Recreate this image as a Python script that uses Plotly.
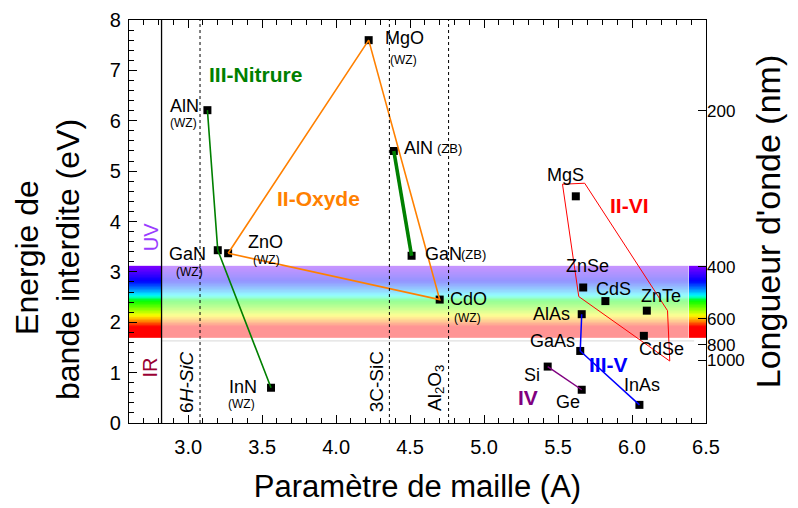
import numpy as np
import plotly.graph_objects as go

# ---------------- data ----------------
materials = ['AlN (WZ)', 'GaN (WZ)', 'InN (WZ)', 'AlN (ZB)', 'GaN (ZB)', 'MgO', 'ZnO', 'CdO',
             'MgS', 'ZnSe', 'CdS', 'ZnTe', 'CdSe', 'AlAs', 'GaAs', 'InAs', 'Si', 'Ge']
lattice = [3.13, 3.20, 3.56, 4.39, 4.51, 4.22, 3.27, 4.70,
           5.62, 5.67, 5.82, 6.10, 6.08, 5.66, 5.65, 6.05, 5.43, 5.66]
gap = [6.21, 3.43, 0.70, 5.40, 3.32, 7.60, 3.37, 2.45,
       4.50, 2.69, 2.42, 2.23, 1.73, 2.16, 1.43, 0.36, 1.12, 0.66]

nitride_wz = ['AlN (WZ)', 'GaN (WZ)', 'InN (WZ)']
nitride_zb = ['AlN (ZB)', 'GaN (ZB)']
oxide_loop = ['ZnO', 'MgO', 'CdO', 'ZnO']
iii_v = ['AlAs', 'GaAs', 'InAs']
group_iv = ['Si', 'Ge']

# II-VI envelope polygon
iivi_env_a = [5.53, 5.68, 6.24, 6.255, 5.64, 5.53]
iivi_env_E = [4.74, 4.76, 2.23, 1.23, 2.51, 4.74]

# substrates (lattice parameter, A)
substrates = ['6<i>H-SiC</i>', '3C-SiC', 'Al<sub>2</sub>O<sub>3</sub>']
substrate_a = [3.08, 4.36, 4.76]

# visible spectrum band (eV)
visible_E = [1.70, 3.12]
wl_ticks = [200, 400, 600, 800, 1000]
hc = 1240.0

idx = {m: i for i, m in enumerate(materials)}
def pts(names):
    return [lattice[idx[n]] for n in names], [gap[idx[n]] for n in names]

# ---------------- colours ----------------
def wl_rgb(wl):
    stops = [(380, (128, 0, 255)), (397, (128, 0, 255)), (440, (0, 0, 255)), (490, (0, 255, 255)),
             (510, (0, 255, 0)), (580, (255, 255, 0)), (645, (255, 0, 0)), (780, (255, 0, 0))]
    for (w0, c0), (w1, c1) in zip(stops[:-1], stops[1:]):
        if w0 <= wl <= w1:
            t = (wl - w0) / (w1 - w0) if w1 > w0 else 0
            return tuple(int(round(c0[k] + t * (c1[k] - c0[k]))) for k in range(3))
    return stops[-1][1]

FONT = 'Liberation Sans, Arial, sans-serif'
fig = go.Figure()

# spectrum band as heatmaps (bricks)
N = 120
Eedges = np.linspace(visible_E[0], visible_E[1], N + 1)
Ecent = 0.5 * (Eedges[:-1] + Eedges[1:])
ts = np.linspace(0, 1, 41)
cscale = []
for t in ts:
    E = visible_E[0] + t * (visible_E[1] - visible_E[0])
    r, g, b = wl_rgb(hc / E)
    cscale.append([float(t), f'rgb({r},{g},{b})'])
z = [[float(e)] for e in Ecent]
x_left, x_vline, x_right0, x_max = 2.6, 2.82, 6.385, 6.5
for xs, op in [([x_left, x_vline], 1.0), ([x_vline, x_right0], 0.42), ([x_right0, x_max], 1.0)]:
    fig.add_trace(go.Heatmap(x=xs, y=list(Eedges), z=z, colorscale=cscale, zmin=visible_E[0],
                             zmax=visible_E[1], showscale=False, opacity=op, hoverinfo='skip'))

# markers
fig.add_trace(go.Scatter(x=lattice, y=gap, mode='markers',
                         marker=dict(symbol='square', size=8, color='black'), hoverinfo='skip'))

# group lines
def line(names, color, width):
    x, y = pts(names)
    fig.add_trace(go.Scatter(x=x, y=y, mode='lines', line=dict(color=color, width=width), hoverinfo='skip'))

line(nitride_wz, '#008000', 1.6)
line(nitride_zb, '#008000', 3.6)
line(oxide_loop, '#ff8000', 1.6)
line(iii_v, '#0000ff', 1.5)
line(group_iv, '#800080', 1.5)
fig.add_trace(go.Scatter(x=iivi_env_a, y=iivi_env_E, mode='lines',
                         line=dict(color='#ff0000', width=1), hoverinfo='skip'))

# invisible trace for the wavelength axis
fig.add_trace(go.Scatter(x=[x_left], y=[0], yaxis='y2', mode='markers',
                         marker=dict(opacity=0), hoverinfo='skip'))

shapes = []
shapes.append(dict(type='line', xref='x', yref='y', x0=x_vline, x1=x_vline, y0=0, y1=8,
                   line=dict(color='black', width=1.3)))
for a in substrate_a:
    shapes.append(dict(type='line', xref='x', yref='y', x0=a, x1=a, y0=0, y1=8,
                       line=dict(color='black', width=1, dash='dot')))
shapes.append(dict(type='line', xref='x', yref='y', x0=x_vline, x1=6.42, y0=1.63, y1=1.63,
                   line=dict(color='#e0e0e0', width=1.2), layer='below'))

ann = []
def lab(name, text, dx, dy, size=18, color='black'):
    i = idx[name]
    ann.append(dict(x=lattice[i], y=gap[i], xref='x', yref='y', text=text, showarrow=False,
                    xshift=dx, yshift=dy, font=dict(size=size, color=color, family=FONT)))

lab('MgO', 'MgO', 36, 2); lab('MgO', '(WZ)', 35, -20, 12)
lab('AlN (WZ)', 'AlN', -23, 4); lab('AlN (WZ)', '(WZ)', -24, -13, 12)
lab('AlN (ZB)', 'AlN', 25, 3); lab('AlN (ZB)', '(ZB)', 56, 2, 13)
lab('GaN (WZ)', 'GaN', -30, -4); lab('GaN (WZ)', '(WZ)', -28, -22, 12)
lab('ZnO', 'ZnO', 37, 11); lab('ZnO', '(WZ)', 38, -7, 12)
lab('GaN (ZB)', 'GaN', 32, 2); lab('GaN (ZB)', '(ZB)', 62, 1, 13)
lab('CdO', 'CdO', 29, 1); lab('CdO', '(WZ)', 28, -18, 12)
lab('InN (WZ)', 'InN', -28, 1); lab('InN (WZ)', '(WZ)', -30, -16, 12)
lab('MgS', 'MgS', -10, 21)
lab('ZnSe', 'ZnSe', 4, 21)
lab('CdS', 'CdS', 8, 12)
lab('ZnTe', 'ZnTe', 14, 15)
lab('AlAs', 'AlAs', -30, 0)
lab('CdSe', 'CdSe', 18, -13)
lab('GaAs', 'GaAs', -28, 10)
lab('Si', 'Si', -16, -8)
lab('Ge', 'Ge', -14, -12)
lab('InAs', 'InAs', 3, 20)

def free(x, y, text, size, color, bold=False, angle=0):
    ann.append(dict(x=x, y=y, xref='x', yref='y', text=f'<b>{text}</b>' if bold else text,
                    showarrow=False, textangle=angle,
                    font=dict(size=size, color=color, family=FONT)))

free(3.457, 6.925, 'III-Nitrure', 21, '#008000', True)
free(3.88, 4.46, 'II-Oxyde', 21, '#ff8000', True)
free(5.98, 4.31, 'II-VI', 21, '#ff0000', True)
free(5.84, 1.17, 'III-V', 21, '#0000ff', True)
free(5.30, 0.50, 'IV', 21, '#800080', True)
free(2.75, 3.69, 'UV', 20, '#9a3cff', False, -90)
free(2.745, 1.11, 'IR', 20, '#990033', False, -90)
for s, a, yy in zip(substrates, substrate_a, [0.81, 0.81, 0.70]):
    free(a - 0.09, yy, s, 19, 'black', False, -90)

# left axis title (two lines, placed like the reference)
for txt, xp, yp in [('Energie de', -0.1768, 0.412), ('bande interdite (eV)', -0.1057, 0.4045)]:
    ann.append(dict(x=xp, y=yp, xref='paper', yref='paper', text=txt, showarrow=False,
                    textangle=-90, xanchor='center', yanchor='middle',
                    font=dict(size=32, color='black', family=FONT)))

axis_common = dict(showgrid=False, zeroline=False, showline=True, linecolor='black', linewidth=1.3,
                   ticks='inside', tickcolor='black', tickwidth=1.3, ticklen=8, automargin=False,
                   tickfont=dict(size=20, family=FONT, color='black'))

fig.update_layout(
    width=790, height=500, margin=dict(l=121, r=92, t=12, b=85, autoexpand=False),
    paper_bgcolor='white', plot_bgcolor='white', showlegend=False, hovermode=False,
    font=dict(family=FONT, color='black'),
    xaxis=dict(range=[x_left, x_max], tick0=3.0, dtick=0.5, tickformat='.1f', mirror='ticks',
               ticklabelstandoff=6,
               minor=dict(ticks='inside', dtick=0.1, ticklen=4.5, tickcolor='black', tickwidth=1.2),
               title=dict(text='Paramètre de maille (A)', font=dict(size=31, family=FONT), standoff=18),
               **axis_common),
    yaxis=dict(range=[0, 8], dtick=1, mirror=True, ticklabelstandoff=3,
               minor=dict(ticks='inside', dtick=0.2, ticklen=4.5, tickcolor='black', tickwidth=1.2),
               **axis_common),
    yaxis2=dict(overlaying='y', side='right', range=[0, 8], showgrid=False, zeroline=False, showline=False,
                tickvals=[hc / w for w in wl_ticks], ticktext=[str(w) for w in wl_ticks], automargin=False,
                ticks='inside', tickcolor='black', tickwidth=1.3, ticklen=8,
                tickfont=dict(size=17, family=FONT, color='black'),
                title=dict(text="Longueur d'onde (nm)", font=dict(size=34, family=FONT), standoff=12)),
    shapes=shapes, annotations=ann,
)

fig.write_html('out.html')
